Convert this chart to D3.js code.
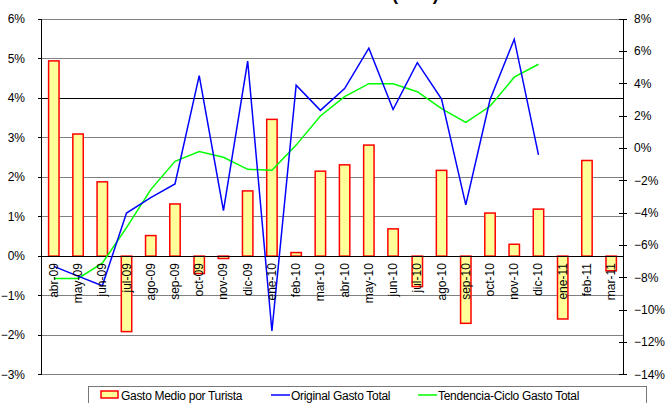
<!DOCTYPE html>
<html><head><meta charset="utf-8">
<script src="https://cdn.jsdelivr.net/npm/d3@7"></script>
<style>body{margin:0;background:#fff}svg{display:block;font-family:"Liberation Sans",Arial,sans-serif}</style>
</head><body><svg id="c" width="665" height="403"></svg>
<script>
const categories = ["abr-09","may-09","jun-09","jul-09","ago-09","sep-09","oct-09","nov-09","dic-09","ene-10","feb-10","mar-10","abr-10","may-10","jun-10","jul-10","ago-10","sep-10","oct-10","nov-10","dic-10","ene-11","feb-11","mar-11"];
const gastoMedio = [4.94,3.09,1.88,-1.91,0.52,1.32,-0.44,-0.06,1.65,3.46,0.09,2.15,2.31,2.81,0.69,-0.77,2.17,-1.70,1.09,0.30,1.19,-1.59,2.42,-0.37];
const originalTotal = [-7.3,-7.9,-8.5,-4.0,-3.05,-2.2,4.5,-3.85,5.4,-11.3,3.9,2.35,3.7,6.2,2.4,5.3,3.05,-3.5,3.0,6.75,-0.4,null,null,null];
const tendencia = [-8.05,-8.05,-7.1,-4.9,-2.55,-0.8,-0.2,-0.55,-1.3,-1.35,0.2,2.0,3.2,4.0,4.0,3.5,2.45,1.6,2.6,4.4,5.2,null,null,null];
const leftTicks = [6,5,4,3,2,1,0,-1,-2,-3];
const rightTicks = [8,6,4,2,0,-2,-4,-6,-8,-10,-12,-14];
const legendLabels = ["Gasto Medio por Turista","Original Gasto Total","Tendencia-Ciclo Gasto Total"];

const svg = d3.select("#c");
const L = 41.7, R = 623.3, T = 19, B = 374.7;
const x = d3.scaleBand().domain(categories).range([L, R]).padding(0);
const yL = d3.scaleLinear().domain([-3, 6]).range([B, T]);
const yR = d3.scaleLinear().domain([-14, 8]).range([B, T]);
const cx = c => x(c) + x.bandwidth() / 2;

// title (clipped at top)
svg.append("text").attr("x", 392).attr("y", 0).attr("font-weight", "bold").attr("font-size", 18).text("(TVA)");

// gridlines
svg.append("g").selectAll("line").data(leftTicks).join("line")
  .attr("x1", L).attr("x2", R).attr("y1", d => yL(d)).attr("y2", d => yL(d))
  .attr("stroke", d => d === 4 ? "#000" : "#808080").attr("stroke-width", 1)
  .attr("shape-rendering", "crispEdges");

// bars
const bw = x.bandwidth() * 0.43;
svg.append("g").selectAll("rect").data(categories).join("rect")
  .attr("x", (c) => cx(c) - bw / 2)
  .attr("width", bw)
  .attr("y", (c, i) => yL(Math.max(0, gastoMedio[i])))
  .attr("height", (c, i) => Math.abs(yL(gastoMedio[i]) - yL(0)))
  .attr("fill", "#FFFF99").attr("stroke", "#FF0000").attr("stroke-width", 1.5);

// zero axis
svg.append("line").attr("x1", L).attr("x2", R).attr("y1", yL(0)).attr("y2", yL(0))
  .attr("stroke", "#000").attr("shape-rendering", "crispEdges");

// lines
const lineGen = arr => d3.line().defined((d, i) => arr[i] !== null)
  .x((d, i) => cx(categories[i])).y((d, i) => yR(arr[i]))(categories);
svg.append("path").attr("d", lineGen(tendencia)).attr("fill", "none").attr("stroke", "#00FF00").attr("stroke-width", 1.5);
svg.append("path").attr("d", lineGen(originalTotal)).attr("fill", "none").attr("stroke", "#0000FF").attr("stroke-width", 1.5);

// category labels
svg.append("g").selectAll("text").data(categories).join("text")
  .attr("transform", c => `translate(${cx(c) + 4},${yL(0) + 7}) rotate(-90)`)
  .attr("text-anchor", "end").attr("font-size", 12).attr("fill", "#000").text(c => c);

// left axis
const gL = svg.append("g");
gL.append("line").attr("x1", L).attr("x2", L).attr("y1", T).attr("y2", B).attr("stroke", "#000").attr("shape-rendering", "crispEdges");
gL.selectAll(".t").data(leftTicks).join("line").attr("class", "t")
  .attr("x1", L - 4).attr("x2", L).attr("y1", d => yL(d)).attr("y2", d => yL(d))
  .attr("stroke", "#000").attr("shape-rendering", "crispEdges");
gL.selectAll("text").data(leftTicks).join("text")
  .attr("x", 25).attr("y", d => yL(d) + 4).attr("text-anchor", "end").attr("font-size", 12)
  .text(d => d3.format("d")(d) + "%");

// right axis
const gR = svg.append("g");
gR.append("line").attr("x1", R).attr("x2", R).attr("y1", T).attr("y2", B).attr("stroke", "#000").attr("shape-rendering", "crispEdges");
gR.selectAll(".t").data(rightTicks).join("line").attr("class", "t")
  .attr("x1", R - 4).attr("x2", R + 4).attr("y1", d => yR(d)).attr("y2", d => yR(d))
  .attr("stroke", "#000").attr("shape-rendering", "crispEdges");
gR.selectAll("text").data(rightTicks).join("text")
  .attr("x", 634).attr("y", d => yR(d) + 4).attr("font-size", 12)
  .text(d => d3.format("d")(d) + "%");

// legend
const lg = svg.append("g");
lg.append("rect").attr("x", 88.5).attr("y", 386.5).attr("width", 558).attr("height", 30)
  .attr("fill", "#fff").attr("stroke", "#777");
lg.append("rect").attr("x", 101).attr("y", 391).attr("width", 17).attr("height", 7)
  .attr("fill", "#FFFF99").attr("stroke", "#FF0000").attr("stroke-width", 1.5);
lg.append("line").attr("x1", 271).attr("x2", 290).attr("y1", 395).attr("y2", 395).attr("stroke", "#0000FF").attr("stroke-width", 1.5);
lg.append("line").attr("x1", 418).attr("x2", 437).attr("y1", 395).attr("y2", 395).attr("stroke", "#00FF00").attr("stroke-width", 1.5);
const lx = [121, 291, 438];
lg.selectAll("text").data(legendLabels).join("text")
  .attr("x", (d, i) => lx[i]).attr("y", 400).attr("font-size", 12).attr("letter-spacing", -0.3).text(d => d);
</script></body></html>
